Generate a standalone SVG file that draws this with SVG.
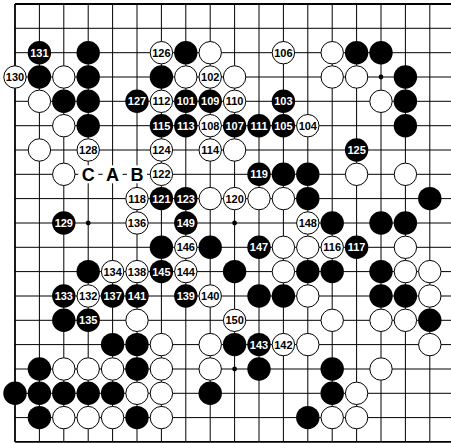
<svg xmlns="http://www.w3.org/2000/svg" width="451" height="443" viewBox="0 0 451 443">
<style>
.grid line{stroke:#000;stroke-width:1}
.grid .edge{stroke-width:1.8}
.b circle{fill:#000}
.w circle{fill:#fff;stroke:#000;stroke-width:1}
text{font-family:"Liberation Sans",Arial,Helvetica,sans-serif;font-weight:bold;font-size:11px;text-anchor:middle}
.b text{fill:#fff}
.w text{fill:#000}
.lbl rect{fill:#fff}
.lbl text{font-size:18px;fill:#000}
.hoshi{fill:#000}
</style>
<rect x="0" y="0" width="451" height="443" fill="#fff"/>
<g id="connectors" class="grid">
<line x1="15" y1="4" x2="15" y2="442" class="edge"/>
<line x1="39.4" y1="4" x2="39.4" y2="442"/>
<line x1="63.8" y1="4" x2="63.8" y2="442"/>
<line x1="88.2" y1="4" x2="88.2" y2="442"/>
<line x1="112.6" y1="4" x2="112.6" y2="442"/>
<line x1="137" y1="4" x2="137" y2="442"/>
<line x1="161.4" y1="4" x2="161.4" y2="442"/>
<line x1="185.8" y1="4" x2="185.8" y2="442"/>
<line x1="210.2" y1="4" x2="210.2" y2="442"/>
<line x1="234.6" y1="4" x2="234.6" y2="442"/>
<line x1="259" y1="4" x2="259" y2="442"/>
<line x1="283.4" y1="4" x2="283.4" y2="442"/>
<line x1="307.8" y1="4" x2="307.8" y2="442"/>
<line x1="332.2" y1="4" x2="332.2" y2="442"/>
<line x1="356.6" y1="4" x2="356.6" y2="442"/>
<line x1="381" y1="4" x2="381" y2="442"/>
<line x1="405.4" y1="4" x2="405.4" y2="442"/>
<line x1="429.8" y1="4" x2="429.8" y2="442"/>
<line x1="15" y1="4" x2="451" y2="4" class="edge"/>
<line x1="15" y1="28.3" x2="451" y2="28.3"/>
<line x1="15" y1="52.7" x2="451" y2="52.7"/>
<line x1="15" y1="77" x2="451" y2="77"/>
<line x1="15" y1="101.3" x2="451" y2="101.3"/>
<line x1="15" y1="125.7" x2="451" y2="125.7"/>
<line x1="15" y1="150" x2="451" y2="150"/>
<line x1="15" y1="174.3" x2="451" y2="174.3"/>
<line x1="15" y1="198.6" x2="451" y2="198.6"/>
<line x1="15" y1="223" x2="451" y2="223"/>
<line x1="15" y1="247.3" x2="451" y2="247.3"/>
<line x1="15" y1="271.6" x2="451" y2="271.6"/>
<line x1="15" y1="296" x2="451" y2="296"/>
<line x1="15" y1="320.3" x2="451" y2="320.3"/>
<line x1="15" y1="344.6" x2="451" y2="344.6"/>
<line x1="15" y1="369" x2="451" y2="369"/>
<line x1="15" y1="393.3" x2="451" y2="393.3"/>
<line x1="15" y1="417.6" x2="451" y2="417.6"/>
<line x1="15" y1="441.9" x2="451" y2="441.9" class="edge"/>
</g>
<g id="hoshi">
<circle class="hoshi" cx="88.2" cy="77" r="2.4"/>
<circle class="hoshi" cx="234.6" cy="77" r="2.4"/>
<circle class="hoshi" cx="381" cy="77" r="2.4"/>
<circle class="hoshi" cx="88.2" cy="223" r="2.4"/>
<circle class="hoshi" cx="234.6" cy="223" r="2.4"/>
<circle class="hoshi" cx="381" cy="223" r="2.4"/>
<circle class="hoshi" cx="88.2" cy="369" r="2.4"/>
<circle class="hoshi" cx="234.6" cy="369" r="2.4"/>
<circle class="hoshi" cx="381" cy="369" r="2.4"/>
</g>
<g id="stones">
<g id="m131" class="b" transform="translate(39.4,52.7)"><circle r="11.7"/><text y="4">131</text></g>
<g id="s3-2" class="b" transform="translate(88.2,52.7)"><circle r="11.7"/></g>
<g id="m126" class="w" transform="translate(161.4,52.7)"><circle r="11.2"/><text y="4">126</text></g>
<g id="s7-2" class="b" transform="translate(185.8,52.7)"><circle r="11.7"/></g>
<g id="s8-2" class="w" transform="translate(210.2,52.7)"><circle r="11.2"/></g>
<g id="m106" class="w" transform="translate(283.4,52.7)"><circle r="11.2"/><text y="4">106</text></g>
<g id="s13-2" class="w" transform="translate(332.2,52.7)"><circle r="11.2"/></g>
<g id="s14-2" class="b" transform="translate(356.6,52.7)"><circle r="11.7"/></g>
<g id="s15-2" class="b" transform="translate(381,52.7)"><circle r="11.7"/></g>
<g id="m130" class="w" transform="translate(15,77)"><circle r="11.2"/><text y="4">130</text></g>
<g id="s1-3" class="b" transform="translate(39.4,77)"><circle r="11.7"/></g>
<g id="s2-3" class="w" transform="translate(63.8,77)"><circle r="11.2"/></g>
<g id="s3-3" class="b" transform="translate(88.2,77)"><circle r="11.7"/></g>
<g id="s6-3" class="b" transform="translate(161.4,77)"><circle r="11.7"/></g>
<g id="s7-3" class="w" transform="translate(185.8,77)"><circle r="11.2"/></g>
<g id="m102" class="w" transform="translate(210.2,77)"><circle r="11.2"/><text y="4">102</text></g>
<g id="s9-3" class="w" transform="translate(234.6,77)"><circle r="11.2"/></g>
<g id="s13-3" class="w" transform="translate(332.2,77)"><circle r="11.2"/></g>
<g id="s14-3" class="w" transform="translate(356.6,77)"><circle r="11.2"/></g>
<g id="s16-3" class="b" transform="translate(405.4,77)"><circle r="11.7"/></g>
<g id="s1-4" class="w" transform="translate(39.4,101.3)"><circle r="11.2"/></g>
<g id="s2-4" class="b" transform="translate(63.8,101.3)"><circle r="11.7"/></g>
<g id="s3-4" class="b" transform="translate(88.2,101.3)"><circle r="11.7"/></g>
<g id="m127" class="b" transform="translate(137,101.3)"><circle r="11.7"/><text y="4">127</text></g>
<g id="m112" class="w" transform="translate(161.4,101.3)"><circle r="11.2"/><text y="4">112</text></g>
<g id="m101" class="b" transform="translate(185.8,101.3)"><circle r="11.7"/><text y="4">101</text></g>
<g id="m109" class="b" transform="translate(210.2,101.3)"><circle r="11.7"/><text y="4">109</text></g>
<g id="m110" class="w" transform="translate(234.6,101.3)"><circle r="11.2"/><text y="4">110</text></g>
<g id="m103" class="b" transform="translate(283.4,101.3)"><circle r="11.7"/><text y="4">103</text></g>
<g id="s15-4" class="w" transform="translate(381,101.3)"><circle r="11.2"/></g>
<g id="s16-4" class="b" transform="translate(405.4,101.3)"><circle r="11.7"/></g>
<g id="s2-5" class="w" transform="translate(63.8,125.7)"><circle r="11.2"/></g>
<g id="s3-5" class="b" transform="translate(88.2,125.7)"><circle r="11.7"/></g>
<g id="m115" class="b" transform="translate(161.4,125.7)"><circle r="11.7"/><text y="4">115</text></g>
<g id="m113" class="b" transform="translate(185.8,125.7)"><circle r="11.7"/><text y="4">113</text></g>
<g id="m108" class="w" transform="translate(210.2,125.7)"><circle r="11.2"/><text y="4">108</text></g>
<g id="m107" class="b" transform="translate(234.6,125.7)"><circle r="11.7"/><text y="4">107</text></g>
<g id="m111" class="b" transform="translate(259,125.7)"><circle r="11.7"/><text y="4">111</text></g>
<g id="m105" class="b" transform="translate(283.4,125.7)"><circle r="11.7"/><text y="4">105</text></g>
<g id="m104" class="w" transform="translate(307.8,125.7)"><circle r="11.2"/><text y="4">104</text></g>
<g id="s16-5" class="b" transform="translate(405.4,125.7)"><circle r="11.7"/></g>
<g id="s1-6" class="w" transform="translate(39.4,150)"><circle r="11.2"/></g>
<g id="m128" class="w" transform="translate(88.2,150)"><circle r="11.2"/><text y="4">128</text></g>
<g id="m124" class="w" transform="translate(161.4,150)"><circle r="11.2"/><text y="4">124</text></g>
<g id="m114" class="w" transform="translate(210.2,150)"><circle r="11.2"/><text y="4">114</text></g>
<g id="s9-6" class="w" transform="translate(234.6,150)"><circle r="11.2"/></g>
<g id="m125" class="b" transform="translate(356.6,150)"><circle r="11.7"/><text y="4">125</text></g>
<g id="s2-7" class="w" transform="translate(63.8,174.3)"><circle r="11.2"/></g>
<g id="lC" class="lbl" transform="translate(88.2,174.3)"><rect x="-10" y="-9" width="20" height="18"/><text y="6.5">C</text></g>
<g id="lA" class="lbl" transform="translate(112.6,174.3)"><rect x="-10" y="-9" width="20" height="18"/><text y="6.5">A</text></g>
<g id="lB" class="lbl" transform="translate(137,174.3)"><rect x="-10" y="-9" width="20" height="18"/><text y="6.5">B</text></g>
<g id="m122" class="w" transform="translate(161.4,174.3)"><circle r="11.2"/><text y="4">122</text></g>
<g id="m119" class="b" transform="translate(259,174.3)"><circle r="11.7"/><text y="4">119</text></g>
<g id="s11-7" class="b" transform="translate(283.4,174.3)"><circle r="11.7"/></g>
<g id="s12-7" class="b" transform="translate(307.8,174.3)"><circle r="11.7"/></g>
<g id="s14-7" class="w" transform="translate(356.6,174.3)"><circle r="11.2"/></g>
<g id="s16-7" class="w" transform="translate(405.4,174.3)"><circle r="11.2"/></g>
<g id="m118" class="w" transform="translate(137,198.6)"><circle r="11.2"/><text y="4">118</text></g>
<g id="m121" class="b" transform="translate(161.4,198.6)"><circle r="11.7"/><text y="4">121</text></g>
<g id="m123" class="b" transform="translate(185.8,198.6)"><circle r="11.7"/><text y="4">123</text></g>
<g id="s8-8" class="w" transform="translate(210.2,198.6)"><circle r="11.2"/></g>
<g id="m120" class="w" transform="translate(234.6,198.6)"><circle r="11.2"/><text y="4">120</text></g>
<g id="s10-8" class="w" transform="translate(259,198.6)"><circle r="11.2"/></g>
<g id="s11-8" class="w" transform="translate(283.4,198.6)"><circle r="11.2"/></g>
<g id="s12-8" class="b" transform="translate(307.8,198.6)"><circle r="11.7"/></g>
<g id="s17-8" class="b" transform="translate(429.8,198.6)"><circle r="11.7"/></g>
<g id="m129" class="b" transform="translate(63.8,223)"><circle r="11.7"/><text y="4">129</text></g>
<g id="m136" class="w" transform="translate(137,223)"><circle r="11.2"/><text y="4">136</text></g>
<g id="m149" class="b" transform="translate(185.8,223)"><circle r="11.7"/><text y="4">149</text></g>
<g id="m148" class="w" transform="translate(307.8,223)"><circle r="11.2"/><text y="4">148</text></g>
<g id="s13-9" class="b" transform="translate(332.2,223)"><circle r="11.7"/></g>
<g id="s15-9" class="b" transform="translate(381,223)"><circle r="11.7"/></g>
<g id="s16-9" class="b" transform="translate(405.4,223)"><circle r="11.7"/></g>
<g id="s6-10" class="b" transform="translate(161.4,247.3)"><circle r="11.7"/></g>
<g id="m146" class="w" transform="translate(185.8,247.3)"><circle r="11.2"/><text y="4">146</text></g>
<g id="s8-10" class="b" transform="translate(210.2,247.3)"><circle r="11.7"/></g>
<g id="m147" class="b" transform="translate(259,247.3)"><circle r="11.7"/><text y="4">147</text></g>
<g id="s11-10" class="w" transform="translate(283.4,247.3)"><circle r="11.2"/></g>
<g id="s12-10" class="w" transform="translate(307.8,247.3)"><circle r="11.2"/></g>
<g id="m116" class="w" transform="translate(332.2,247.3)"><circle r="11.2"/><text y="4">116</text></g>
<g id="m117" class="b" transform="translate(356.6,247.3)"><circle r="11.7"/><text y="4">117</text></g>
<g id="s16-10" class="w" transform="translate(405.4,247.3)"><circle r="11.2"/></g>
<g id="s3-11" class="b" transform="translate(88.2,271.6)"><circle r="11.7"/></g>
<g id="m134" class="w" transform="translate(112.6,271.6)"><circle r="11.2"/><text y="4">134</text></g>
<g id="m138" class="w" transform="translate(137,271.6)"><circle r="11.2"/><text y="4">138</text></g>
<g id="m145" class="b" transform="translate(161.4,271.6)"><circle r="11.7"/><text y="4">145</text></g>
<g id="m144" class="w" transform="translate(185.8,271.6)"><circle r="11.2"/><text y="4">144</text></g>
<g id="s9-11" class="b" transform="translate(234.6,271.6)"><circle r="11.7"/></g>
<g id="s11-11" class="w" transform="translate(283.4,271.6)"><circle r="11.2"/></g>
<g id="s12-11" class="b" transform="translate(307.8,271.6)"><circle r="11.7"/></g>
<g id="s13-11" class="b" transform="translate(332.2,271.6)"><circle r="11.7"/></g>
<g id="s15-11" class="b" transform="translate(381,271.6)"><circle r="11.7"/></g>
<g id="s16-11" class="w" transform="translate(405.4,271.6)"><circle r="11.2"/></g>
<g id="s17-11" class="w" transform="translate(429.8,271.6)"><circle r="11.2"/></g>
<g id="m133" class="b" transform="translate(63.8,296)"><circle r="11.7"/><text y="4">133</text></g>
<g id="m132" class="w" transform="translate(88.2,296)"><circle r="11.2"/><text y="4">132</text></g>
<g id="m137" class="b" transform="translate(112.6,296)"><circle r="11.7"/><text y="4">137</text></g>
<g id="m141" class="b" transform="translate(137,296)"><circle r="11.7"/><text y="4">141</text></g>
<g id="m139" class="b" transform="translate(185.8,296)"><circle r="11.7"/><text y="4">139</text></g>
<g id="m140" class="w" transform="translate(210.2,296)"><circle r="11.2"/><text y="4">140</text></g>
<g id="s10-12" class="b" transform="translate(259,296)"><circle r="11.7"/></g>
<g id="s11-12" class="b" transform="translate(283.4,296)"><circle r="11.7"/></g>
<g id="s12-12" class="w" transform="translate(307.8,296)"><circle r="11.2"/></g>
<g id="s15-12" class="b" transform="translate(381,296)"><circle r="11.7"/></g>
<g id="s16-12" class="b" transform="translate(405.4,296)"><circle r="11.7"/></g>
<g id="s17-12" class="w" transform="translate(429.8,296)"><circle r="11.2"/></g>
<g id="s2-13" class="b" transform="translate(63.8,320.3)"><circle r="11.7"/></g>
<g id="m135" class="b" transform="translate(88.2,320.3)"><circle r="11.7"/><text y="4">135</text></g>
<g id="s5-13" class="w" transform="translate(137,320.3)"><circle r="11.2"/></g>
<g id="m150" class="w" transform="translate(234.6,320.3)"><circle r="11.2"/><text y="4">150</text></g>
<g id="s13-13" class="w" transform="translate(332.2,320.3)"><circle r="11.2"/></g>
<g id="s15-13" class="w" transform="translate(381,320.3)"><circle r="11.2"/></g>
<g id="s16-13" class="w" transform="translate(405.4,320.3)"><circle r="11.2"/></g>
<g id="s17-13" class="b" transform="translate(429.8,320.3)"><circle r="11.7"/></g>
<g id="s4-14" class="b" transform="translate(112.6,344.6)"><circle r="11.7"/></g>
<g id="s5-14" class="b" transform="translate(137,344.6)"><circle r="11.7"/></g>
<g id="s6-14" class="w" transform="translate(161.4,344.6)"><circle r="11.2"/></g>
<g id="s8-14" class="w" transform="translate(210.2,344.6)"><circle r="11.2"/></g>
<g id="s9-14" class="b" transform="translate(234.6,344.6)"><circle r="11.7"/></g>
<g id="m143" class="b" transform="translate(259,344.6)"><circle r="11.7"/><text y="4">143</text></g>
<g id="m142" class="w" transform="translate(283.4,344.6)"><circle r="11.2"/><text y="4">142</text></g>
<g id="s12-14" class="w" transform="translate(307.8,344.6)"><circle r="11.2"/></g>
<g id="s17-14" class="w" transform="translate(429.8,344.6)"><circle r="11.2"/></g>
<g id="s1-15" class="b" transform="translate(39.4,369)"><circle r="11.7"/></g>
<g id="s2-15" class="w" transform="translate(63.8,369)"><circle r="11.2"/></g>
<g id="s3-15" class="w" transform="translate(88.2,369)"><circle r="11.2"/></g>
<g id="s4-15" class="w" transform="translate(112.6,369)"><circle r="11.2"/></g>
<g id="s5-15" class="b" transform="translate(137,369)"><circle r="11.7"/></g>
<g id="s6-15" class="w" transform="translate(161.4,369)"><circle r="11.2"/></g>
<g id="s8-15" class="w" transform="translate(210.2,369)"><circle r="11.2"/></g>
<g id="s10-15" class="b" transform="translate(259,369)"><circle r="11.7"/></g>
<g id="s13-15" class="b" transform="translate(332.2,369)"><circle r="11.7"/></g>
<g id="s15-15" class="w" transform="translate(381,369)"><circle r="11.2"/></g>
<g id="s0-16" class="b" transform="translate(15,393.3)"><circle r="11.7"/></g>
<g id="s1-16" class="b" transform="translate(39.4,393.3)"><circle r="11.7"/></g>
<g id="s2-16" class="b" transform="translate(63.8,393.3)"><circle r="11.7"/></g>
<g id="s3-16" class="b" transform="translate(88.2,393.3)"><circle r="11.7"/></g>
<g id="s4-16" class="b" transform="translate(112.6,393.3)"><circle r="11.7"/></g>
<g id="s5-16" class="w" transform="translate(137,393.3)"><circle r="11.2"/></g>
<g id="s6-16" class="w" transform="translate(161.4,393.3)"><circle r="11.2"/></g>
<g id="s8-16" class="b" transform="translate(210.2,393.3)"><circle r="11.7"/></g>
<g id="s13-16" class="b" transform="translate(332.2,393.3)"><circle r="11.7"/></g>
<g id="s14-16" class="w" transform="translate(356.6,393.3)"><circle r="11.2"/></g>
<g id="s1-17" class="b" transform="translate(39.4,417.6)"><circle r="11.7"/></g>
<g id="s2-17" class="w" transform="translate(63.8,417.6)"><circle r="11.2"/></g>
<g id="s3-17" class="w" transform="translate(88.2,417.6)"><circle r="11.2"/></g>
<g id="s4-17" class="w" transform="translate(112.6,417.6)"><circle r="11.2"/></g>
<g id="s5-17" class="b" transform="translate(137,417.6)"><circle r="11.7"/></g>
<g id="s6-17" class="w" transform="translate(161.4,417.6)"><circle r="11.2"/></g>
<g id="s12-17" class="b" transform="translate(307.8,417.6)"><circle r="11.7"/></g>
<g id="s13-17" class="w" transform="translate(332.2,417.6)"><circle r="11.2"/></g>
<g id="s14-17" class="w" transform="translate(356.6,417.6)"><circle r="11.2"/></g>
</g>
</svg>
